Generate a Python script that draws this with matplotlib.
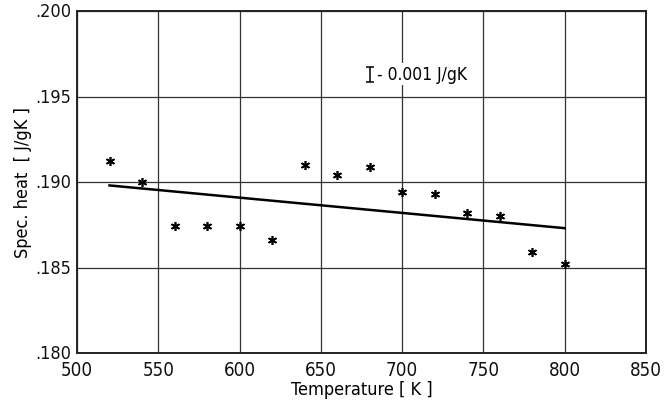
import matplotlib
matplotlib.use('Agg')
import matplotlib.pyplot as plt
import matplotlib.transforms as mtransforms
from matplotlib.ticker import FuncFormatter

# data
temperature = [520, 540, 560, 580, 600, 620, 640, 660, 680, 700, 720, 740, 760, 780, 800]
spec_heat = [0.1912, 0.1900, 0.1874, 0.1874, 0.1874, 0.1866, 0.1910, 0.1904, 0.1909,
             0.1894, 0.1893, 0.1882, 0.1880, 0.1859, 0.1852]
fit_temp = [520, 800]
fit_heat = [0.1898, 0.1873]
x_ticks = [500, 550, 600, 650, 700, 750, 800, 850]
y_ticks = [0.180, 0.185, 0.190, 0.195, 0.200]

plt.rcParams['font.family'] = ['DejaVu Sans']
plt.rcParams['font.stretch'] = 'condensed'

fig = plt.figure(figsize=(6.72, 4.02), dpi=100)
ax = fig.add_axes([0.1146, 0.1194, 0.8467, 0.8507])

ax.set_xlim(500, 850)
ax.set_ylim(0.180, 0.200)
ax.set_xticks(x_ticks)
ax.set_yticks(y_ticks)
ax.yaxis.set_major_formatter(FuncFormatter(lambda v, p: ('%.3f' % v)[1:]))
ax.tick_params(length=0, colors='#111111')
ax.tick_params(axis='x', pad=5, labelsize=13.5)
ax.tick_params(axis='y', pad=4, labelsize=13)
# nudge y labels up a little, as in the scan
shift = mtransforms.ScaledTranslation(0, 2 / 100, fig.dpi_scale_trans)
for lbl in ax.get_yticklabels():
    lbl.set_transform(lbl.get_transform() + shift)
ax.grid(True, color='#333333', linewidth=0.9)
ax.set_axisbelow(True)
for s in ax.spines.values():
    s.set_linewidth(1.4)
    s.set_color('#222222')

ax.plot(fit_temp, fit_heat, color='black', linewidth=1.8, zorder=3)
ax.plot(temperature, spec_heat, linestyle='none', marker=(6, 2, 0),
        markersize=6.5, markeredgewidth=1.2, color='black', zorder=4)

# error bar legend
ax.errorbar([680], [0.1963], yerr=[0.00045], color='black', capsize=3,
            elinewidth=1.1, capthick=1.1, zorder=5)
ax.text(684.5, 0.1963, '- 0.001 J/gK', fontsize=12.5, va='center', ha='left',
        bbox=dict(facecolor='white', edgecolor='none', pad=1.5), zorder=4)

ax.set_xlabel('Temperature [ K ]', fontsize=13)
ax.xaxis.set_label_coords(0.5, -0.08)
ax.set_ylabel('Spec. heat  [ J/gK ]', fontsize=13)
ax.yaxis.set_label_coords(-0.079, 0.5)

fig.savefig('out.png', dpi=100)
